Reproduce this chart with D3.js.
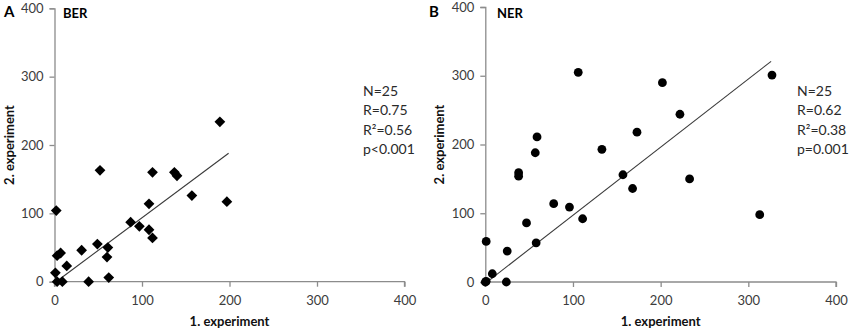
<!DOCTYPE html>
<html>
<head>
<meta charset="utf-8">
<script src="https://cdn.jsdelivr.net/npm/d3@7"></script>
<style>
  html, body { margin: 0; padding: 0; background: #fff; }
  svg { display: block; font-family: Lato, "Open Sans", sans-serif; }
</style>
</head>
<body>
<svg id="chart" width="851" height="332"></svg>
<script>
// ---- data ----
const berX = [2, 3, 7, 1, 3, 9, 14, 31, 39, 49, 52, 61, 60, 62, 87, 97, 108, 108, 112, 112, 137, 140, 157, 189, 197];
const berY = [104, 38, 42, 13, 0, 0, 23, 46, 0, 55, 163, 50, 36, 6, 87, 81, 114, 76, 64, 160, 160, 155, 126, 234, 117];
const nerX = [0, 1, 1, 8, 24, 25, 38, 38, 47, 57, 59, 58, 78, 96, 106, 111, 133, 157, 168, 173, 202, 222, 233, 313, 327];
const nerY = [0, 1, 59, 12, 0, 45, 159, 154, 86, 188, 211, 57, 114, 109, 305, 92, 193, 156, 136, 218, 290, 244, 150, 98, 301];
const berTrendX = [3, 199];
const berTrendY = [1, 188];
const nerTrendX = [3, 326];
const nerTrendY = [1, 321];
const xTicks = [0, 100, 200, 300, 400];
const yTicks = [0, 100, 200, 300, 400];
const berStats = ["N=25", "R=0.75", "R²=0.56", "p<0.001"];
const nerStats = ["N=25", "R=0.62", "R²=0.38", "p=0.001"];
const panelLetters = ["A", "B"];
const panelNames = ["BER", "NER"];
const xTitle = "1. experiment";
const yTitle = "2. experiment";

const svg = d3.select("#chart");

const panels = [
  { letter: panelLetters[0], name: panelNames[0], xs: berX, ys: berY, tx: berTrendX, ty: berTrendY, stats: berStats,
    x0: 54.5, x1: 404.5, y0: 281.7, y1: 8.3, marker: "diamond", letterX: 4, nameX: 63, statsX: 363, yTitleX: 14 },
  { letter: panelLetters[1], name: panelNames[1], xs: nerX, ys: nerY, tx: nerTrendX, ty: nerTrendY, stats: nerStats,
    x0: 485.3, x1: 836, y0: 282, y1: 7, marker: "circle", letterX: 429, nameX: 497, statsX: 797, yTitleX: 444 }
];

const axisColor = "#8c8c8c";
const tickTextColor = "#3c3c3c";

panels.forEach(p => {
  const x = d3.scaleLinear().domain([0, 400]).range([p.x0, p.x1]);
  const y = d3.scaleLinear().domain([0, 400]).range([p.y0, p.y1]);
  const g = svg.append("g");

  // x axis
  const gx = g.append("g").attr("transform", `translate(0,${p.y0})`)
    .call(d3.axisBottom(x).tickValues(xTicks).tickSize(5).tickPadding(9).tickFormat(d3.format("d")));
  // y axis
  const gy = g.append("g").attr("transform", `translate(${p.x0},0)`)
    .call(d3.axisLeft(y).tickValues(yTicks).tickSize(5).tickPadding(6).tickFormat(d3.format("d")));
  [gx, gy].forEach(a => {
    a.select(".domain").attr("stroke", axisColor).attr("stroke-width", 1.3);
    a.selectAll(".tick line").attr("stroke", axisColor).attr("stroke-width", 1.3);
    a.selectAll(".tick text").attr("fill", tickTextColor).style("font-size", "13px").style("font-family", "Lato, sans-serif");
  });
  gx.selectAll(".domain").attr("d", `M${p.x0},5V0H${p.x1}V5`);

  // trend line
  const line = d3.line().x(d => x(d[0])).y(d => y(d[1]));
  g.append("path")
    .datum(d3.zip(p.tx, p.ty))
    .attr("d", line)
    .attr("fill", "none")
    .attr("stroke", "#3a3a3a")
    .attr("stroke-width", 1.1);

  // points
  const pts = d3.zip(p.xs, p.ys);
  if (p.marker === "diamond") {
    const sym = d3.symbol().type(d3.symbolSquare).size(58);
    g.selectAll("path.pt").data(pts).enter().append("path")
      .attr("class", "pt")
      .attr("d", sym)
      .attr("transform", d => `translate(${x(d[0])},${y(d[1])}) rotate(45)`)
      .attr("fill", "#000");
  } else {
    g.selectAll("circle.pt").data(pts).enter().append("circle")
      .attr("class", "pt")
      .attr("cx", d => x(d[0]))
      .attr("cy", d => y(d[1]))
      .attr("r", 4.4)
      .attr("fill", "#000");
  }

  // panel letter and name
  g.append("text").attr("x", p.letterX).attr("y", 17)
    .style("font-size", "15px").style("font-weight", "bold").attr("fill", "#000").text(p.letter);
  g.append("text").attr("x", p.nameX).attr("y", 18)
    .style("font-size", "13px").style("font-weight", "bold").attr("fill", "#000").text(p.name);

  // axis titles
  g.append("text")
    .attr("x", (p.x0 + p.x1) / 2).attr("y", 326)
    .attr("text-anchor", "middle")
    .style("font-size", "13px").style("font-weight", "bold").attr("fill", "#111")
    .text(xTitle);
  g.append("text")
    .attr("transform", `translate(${p.yTitleX},${(p.y0 + p.y1) / 2}) rotate(-90)`)
    .attr("text-anchor", "middle")
    .style("font-size", "13px").style("font-weight", "bold").attr("fill", "#111")
    .text(yTitle);

  // stats text
  g.selectAll("text.stat").data(p.stats).enter().append("text")
    .attr("class", "stat")
    .attr("x", p.statsX)
    .attr("y", (d, i) => 96 + i * 19.3)
    .style("font-size", "14px").attr("fill", "#2a2a2a")
    .text(d => d);
});
</script>
</body>
</html>
